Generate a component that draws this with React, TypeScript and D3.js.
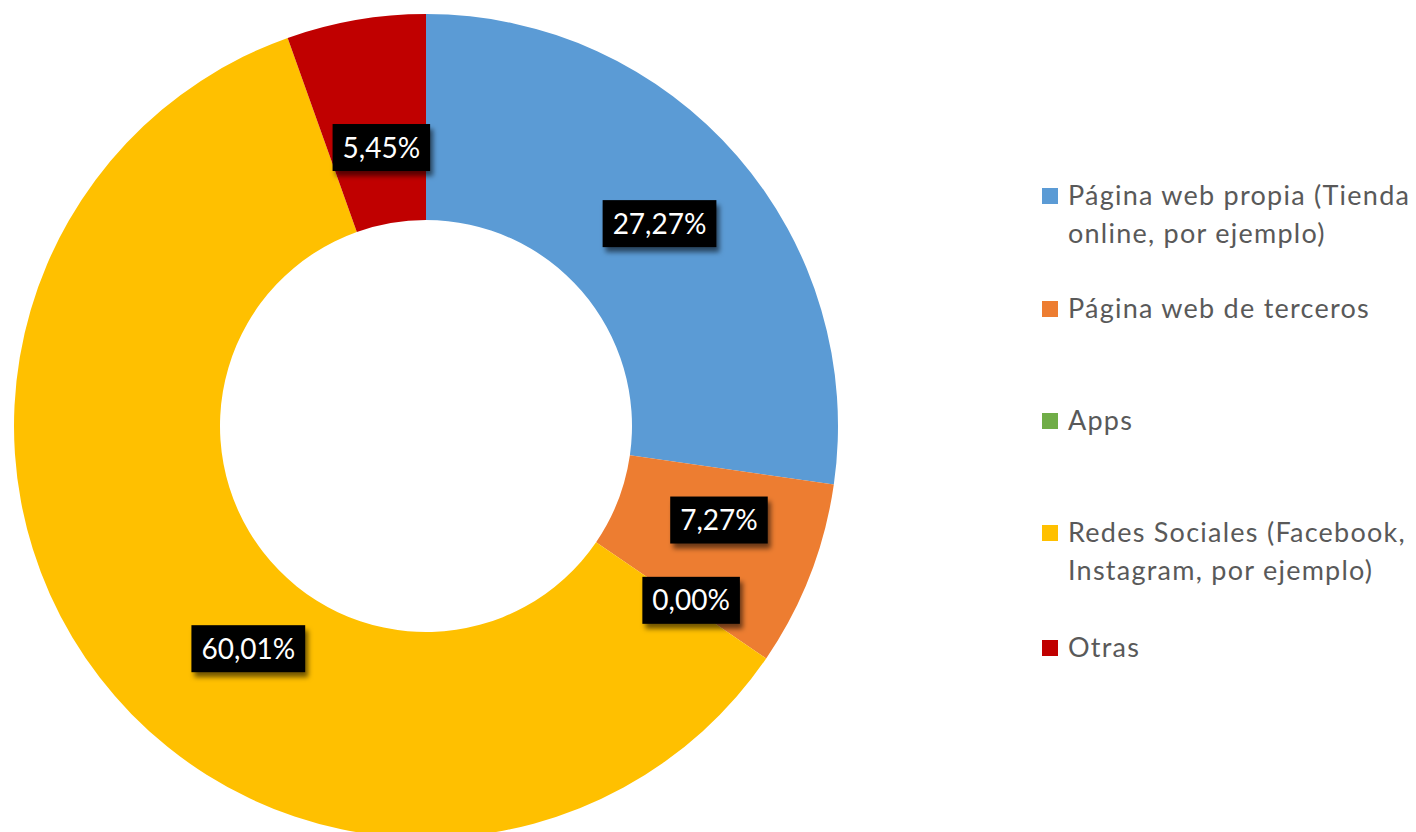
import React, { useRef, useEffect } from 'react';
import { select, pie, arc } from 'd3';

// slice data, clockwise from 12 o'clock
const categories = [
  'Página web propia (Tienda online, por ejemplo)',
  'Página web de terceros',
  'Apps',
  'Redes Sociales (Facebook, Instagram, por ejemplo)',
  'Otras',
];
const values = [27.27, 7.27, 0.0, 60.01, 5.45];
const valueLabels = ['27,27%', '7,27%', '0,00%', '60,01%', '5,45%'];
const colors = ['#5B9BD5', '#ED7D31', '#70AD47', '#FFC000', '#C00000'];
// legend text broken the way the reference wraps it
const legendLines = [
  ['Página web propia (Tienda', 'online, por ejemplo)'],
  ['Página web de terceros'],
  ['Apps'],
  ['Redes Sociales (Facebook,', 'Instagram, por ejemplo)'],
  ['Otras'],
];
// nudges from the arc centroid for the data labels (best-fit placement)
const labelNudge = [
  [0, 0],
  [5, -18],
  [10, 0],
  [67, 34],
  [8, 26],
];

const FONT = 'Lato, Carlito, Calibri, "Open Sans", sans-serif';

function DonutChart() {
  const svgRef = useRef<SVGSVGElement>(null);

  useEffect(() => {
    const width = 1416;
    const height = 832;
    const cx = 426;
    const cy = 426;
    const outerR = 412;
    const innerR = 206;

    const svg = select(svgRef.current)
      .attr('width', width)
      .attr('height', height);
    svg.selectAll('*').remove();

    const defs = svg.append('defs');
    const filter = defs
      .append('filter')
      .attr('id', 'lblShadow')
      .attr('x', '-20%')
      .attr('y', '-30%')
      .attr('width', '150%')
      .attr('height', '180%');
    filter
      .append('feDropShadow')
      .attr('dx', 3)
      .attr('dy', 5)
      .attr('stdDeviation', 2.5)
      .attr('flood-color', '#000')
      .attr('flood-opacity', 0.55);

    const pieGen = pie<number>().sort(null).value((d) => d);
    const arcs = pieGen(values);
    const arcGen = arc<any>().innerRadius(innerR).outerRadius(outerR);

    const g = svg.append('g').attr('transform', `translate(${cx},${cy})`);

    // slices
    g.selectAll('.slice')
      .data(arcs)
      .join('path')
      .attr('class', 'slice')
      .attr('d', arcGen)
      .attr('fill', (d, i) => colors[i]);

    // data labels
    const labels = g
      .selectAll('.label')
      .data(arcs)
      .join('g')
      .attr('class', 'label')
      .attr('transform', (d, i) => {
        const [x, y] = arcGen.centroid(d);
        return `translate(${x + labelNudge[i][0]},${y + labelNudge[i][1]})`;
      });

    labels.each(function (d, i) {
      const lg = select(this);
      const rect = lg.append('rect').attr('fill', '#000').attr('filter', 'url(#lblShadow)');
      const txt = lg
        .append('text')
        .text(valueLabels[i])
        .attr('text-anchor', 'middle')
        .attr('dy', '0.36em')
        .attr('fill', '#fff')
        .style('font-family', FONT)
        .style('font-size', '28px');
      const w = (txt.node() as SVGTextElement).getComputedTextLength() + 20;
      const h = 47;
      rect
        .attr('x', -w / 2)
        .attr('y', -h / 2)
        .attr('width', w)
        .attr('height', h);
    });

    // legend
    const legend = svg.append('g').attr('class', 'legend');
    const legendTop = [205, 318, 430, 542, 657];
    const lineGap = 38;
    legendLines.forEach((lines, i) => {
      const item = legend.append('g').attr('transform', `translate(1042,${legendTop[i]})`);
      item
        .append('rect')
        .attr('x', 0)
        .attr('y', -17)
        .attr('width', 16)
        .attr('height', 16)
        .attr('fill', colors[i]);
      lines.forEach((line, j) => {
        item
          .append('text')
          .attr('x', 26)
          .attr('y', j * lineGap)
          .text(line)
          .attr('fill', '#595959')
          .style('font-family', FONT)
          .style('font-size', '27px')
          .style('letter-spacing', '1.25px');
      });
    });
  }, []);

  return <svg ref={svgRef} style={{ position: 'absolute', left: 0, top: 0 }} />;
}

export default function App() {
  return <DonutChart />;
}
